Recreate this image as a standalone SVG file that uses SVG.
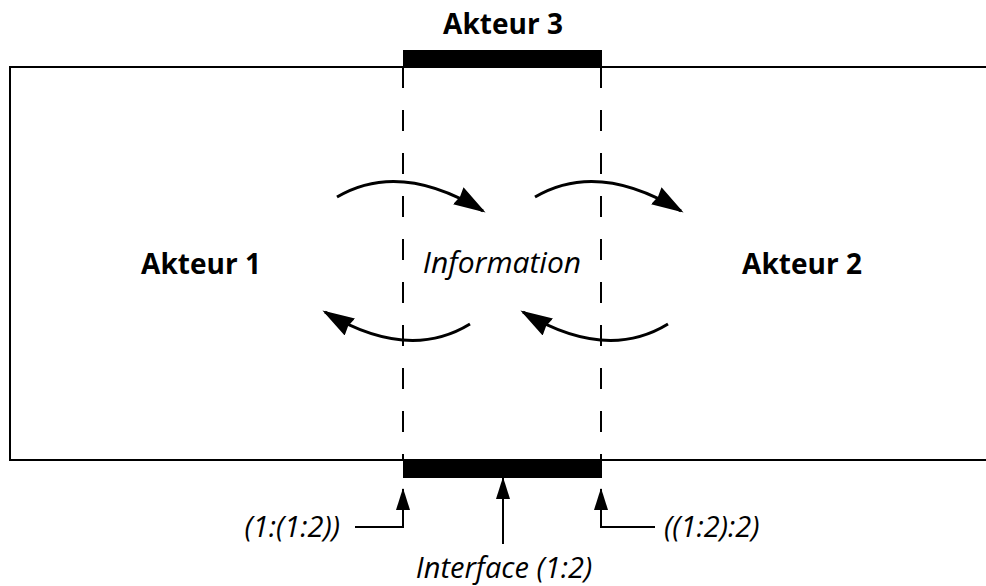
<svg xmlns="http://www.w3.org/2000/svg" width="986" height="586" viewBox="0 0 986 586">
  <style>
    .label { font-family: "Open Sans", "Noto Sans", "DejaVu Sans", sans-serif; font-size: 28px; fill: #000; }
    .bold { font-weight: bold; }
    .ital { font-style: italic; }
    .big { font-size: 30px; }
    .mid { font-size: 29px; }
    .frame { fill: none; stroke: #000; stroke-width: 2; }
    .dash { fill: none; stroke: #000; stroke-width: 2; stroke-dasharray: 21 22; }
    .flow { fill: none; stroke: #000; stroke-width: 3; marker-end: url(#head); }
    .pointer { fill: none; stroke: #000; stroke-width: 2; marker-end: url(#headSmall); }
    .bar { fill: #000; }
  </style>
  <defs>
    <marker id="head" markerUnits="userSpaceOnUse" viewBox="0 0 32 20" markerWidth="32" markerHeight="20" refX="29" refY="10" orient="auto">
      <path d="M0,0 L32,10 L0,20 L2,10 z" fill="#000"/>
    </marker>
    <marker id="headSmall" markerUnits="userSpaceOnUse" viewBox="0 0 22 14" markerWidth="22" markerHeight="14" refX="21" refY="7" orient="auto">
      <path d="M0,0 L22,7 L0,14 z" fill="#000"/>
    </marker>
  </defs>

  <!-- outer system frame, open to the right -->
  <g id="frame">
    <path class="frame" d="M990,67 H10 V460 H990"/>
  </g>

  <!-- Akteur 1 -->
  <g id="actor1">
    <text class="label bold" x="201" y="274" text-anchor="middle">Akteur 1</text>
  </g>

  <!-- Akteur 2 -->
  <g id="actor2">
    <text class="label bold" x="802" y="274" text-anchor="middle">Akteur 2</text>
  </g>

  <!-- Akteur 3: top bar of the interface zone -->
  <g id="actor3">
    <rect class="bar" x="403" y="50" width="199" height="18"/>
    <text class="label bold" x="503" y="34" text-anchor="middle">Akteur 3</text>
  </g>

  <!-- interface zone: boundaries and bottom bar -->
  <g id="interface">
    <line class="dash" x1="403" y1="67" x2="403" y2="460"/>
    <line class="dash" x1="601" y1="67" x2="601" y2="460"/>
    <rect class="bar" x="403" y="460" width="199" height="18"/>
  </g>

  <g id="information">
    <text class="label ital big" x="502" y="273" text-anchor="middle">Information</text>
  </g>

  <!-- information flow arrows and pointers -->
  <g id="connectors">
    <path class="flow" d="M337,197 Q400,160 483,211"/>
    <path class="flow" d="M535,197 Q598,160 681,211"/>
    <path class="flow" d="M470,324 Q408,362 325,312"/>
    <path class="flow" d="M668,324 Q606,362 523,312"/>
    <path class="pointer" d="M355,527 H403 V489"/>
    <path class="pointer" d="M503,544 V478"/>
    <path class="pointer" d="M655,527 H601 V489"/>
  </g>

  <!-- pointer labels -->
  <g id="pointer-labels">
    <text class="label ital mid" x="340" y="537" text-anchor="end">(1:(1:2))</text>
    <text class="label ital mid" x="664" y="537">((1:2):2)</text>
    <text class="label ital mid" x="504" y="578" text-anchor="middle">Interface (1:2)</text>
  </g>
</svg>
